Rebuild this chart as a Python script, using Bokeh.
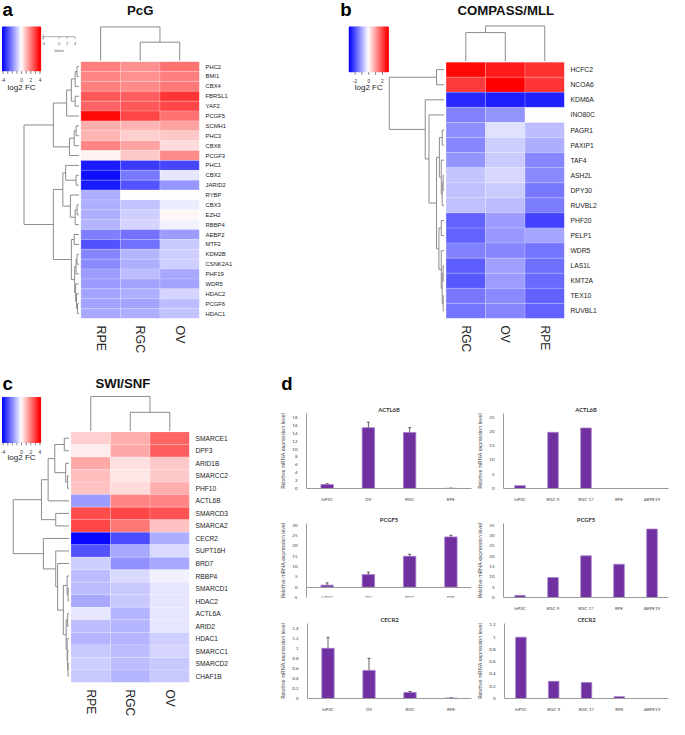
import numpy as np
from bokeh.plotting import figure
from bokeh.models import (Range1d, FactorRange, LinearAxis, FixedTicker, LinearColorMapper,
                          Label, ColumnDataSource, Whisker, TeeHead)
from bokeh.layouts import row, column
from bokeh.embed import file_html
from bokeh.resources import INLINE
from bokeh.core.properties import value

S = 0.978


def sc(v):
    return int(round(v * S))


def fs(v):
    return f"{v * S:.2f}px"


HM_FONT = "Liberation Sans"
BAR_FONT = "Lato"
DCOL = "#8c8c8c"
BAR_FILL = "#7030A0"
BAR_LINE = "#a27bc9"

# ---------------- panel a : PcG ----------------
pcg_genes = ["PHC2", "BMI1", "CBX4", "FBRSL1", "YAF2", "PCGF5", "SCMH1", "PHC3", "CBX8", "PCGF3",
             "PHC1", "CBX2", "JARID2", "RYBP", "CBX3", "EZH2", "RBBP4", "AEBP2", "MTF2", "KDM2B",
             "CSNK2A1", "PHF19", "WDR5", "HDAC2", "PCGF6", "HDAC1"]
pcg_samples = ["RPE", "RGC", "OV"]
pcg_rpe = [2.1, 2.0, 2.1, 2.7, 2.5, 4.0, 1.3, 1.2, 2.0, 0.2, -3.7, -3.9, -3.7, -1.3, -1.3, -1.3,
           -1.2, -2.1, -2.8, -2.0, -1.9, -1.6, -1.6, -1.5, -1.5, -1.4]
pcg_rgc = [1.8, 1.8, 1.9, 2.6, 2.7, 3.0, 1.2, 0.8, 1.5, 0.9, -3.2, -2.2, -2.8, 0.0, -1.0, -0.8,
           -0.7, -2.3, -2.3, -1.2, -1.3, -1.1, -1.5, -1.3, -1.5, -1.3]
pcg_ov = [2.3, 2.1, 2.2, 3.3, 3.0, 2.3, 1.5, 0.9, 0.6, 1.9, -3.0, -0.4, -1.7, 0.05, -0.3, 0.15,
          -0.2, -1.6, -0.9, -0.8, -0.8, -1.4, -1.5, -0.7, -1.1, -1.0]
pcg_row_tree = (
    (
        ((
            (("PHC2", "BMI1", 2), "CBX4", 4),
            ("FBRSL1", "YAF2", 4),
            8), "PCGF5", 13),
        ((("SCMH1", "PHC3", 3), "CBX8", 5), "PCGF3", 10),
        27),
    (
        (
            ("PHC1", ("CBX2", "JARID2", 3), 14),
            ("RYBP", (("CBX3", "EZH2", 2), "RBBP4", 4), 9),
            17),
        (
            ("AEBP2", "MTF2", 5),
            (
                (("KDM2B", "CSNK2A1", 2), "PHF19", 3),
                ("WDR5", ("HDAC2", ("PCGF6", "HDAC1", 1.5), 2.5), 3.5),
                4.5),
            8),
        27),
    58)
pcg_col_tree = ("RPE", ("RGC", "OV", 19.5), 35.5)

# ---------------- panel b : COMPASS/MLL ----------------
cmp_genes = ["HCFC2", "NCOA6", "KDM6A", "INO80C", "PAGR1", "PAXIP1", "TAF4", "ASH2L", "DPY30",
             "RUVBL2", "PHF20", "PELP1", "WDR5", "LAS1L", "KMT2A", "TEX10", "RUVBL1"]
cmp_samples = ["RGC", "OV", "RPE"]
cmp_rgc = [2.75, 2.2, -2.4, -1.4, -1.25, -1.35, -1.2, -0.65, -0.7, -0.7, -1.75, -1.75, -1.4,
           -1.8, -1.85, -1.5, -1.55]
cmp_ov = [2.55, 2.85, -2.5, -1.2, -0.35, -0.55, -0.6, -0.45, -0.6, -0.75, -1.1, -1.15, -1.35,
          -1.05, -1.1, -1.3, -1.35]
cmp_rpe = [2.3, 2.25, -2.45, 0.0, -0.75, -0.9, -1.35, -1.3, -1.5, -1.45, -2.1, -1.0, -1.55,
           -1.6, -1.65, -1.75, -1.75]
cmp_row_tree = (
    ("HCFC2", "NCOA6", 8),
    ("KDM6A",
     ("INO80C",
      (
          (("PAGR1", "PAXIP1", 2), ("TAF4", (("ASH2L", "DPY30", 1), "RUVBL2", 2), 3), 5),
          (("PHF20", "PELP1", 3), ("WDR5", (("LAS1L", "KMT2A", 1), ("TEX10", "RUVBL1", 1), 2), 3), 5.5),
          8),
      16),
     20),
    58)
cmp_col_tree = (("RGC", "OV", 30), "RPE", 37)

# ---------------- panel c : SWI/SNF ----------------
swi_genes = ["SMARCE1", "DPF3", "ARID1B", "SMARCC2", "PHF10", "ACTL6B", "SMARCD3", "SMARCA2",
             "CECR2", "SUPT16H", "BRD7", "RBBP4", "SMARCD1", "HDAC2", "ACTL6A", "ARID2", "HDAC1",
             "SMARCC1", "SMARCD2", "CHAF1B"]
swi_samples = ["RPE", "RGC", "OV"]
swi_rpe = [0.8, 0.3, 1.4, 1.1, 1.0, -1.6, 2.9, 3.0, -4.0, -2.8, -0.8, -1.1, -1.1, -1.4, -0.4,
           -1.1, -1.2, -0.9, -0.8, -0.9]
swi_rgc = [1.3, 1.4, 0.5, 0.4, 0.6, 2.0, 3.0, 2.2, -2.9, -1.4, -1.8, -0.6, -0.9, -0.9, -1.2,
           -1.2, -1.2, -1.1, -1.1, -1.2]
swi_ov = [2.5, 2.6, 0.9, 0.9, 1.3, 2.0, 2.8, 1.0, -1.3, -0.6, -1.4, -0.2, -0.4, -0.4, -0.4,
          -0.4, -0.8, -0.7, -0.9, -0.9]
swi_row_tree = (
    (
        (
            (("SMARCE1", "DPF3", 5), ("ARID1B", ("SMARCC2", "PHF10", 1.5), 3.5), 15),
            "ACTL6B", 22),
        ("SMARCD3", "SMARCA2", 14),
        29),
    ("CECR2",
     ("SUPT16H",
      ("BRD7",
       (
           ("RBBP4", ("SMARCD1", "HDAC2", 1), 2),
           (("ACTL6A", "ARID2", 1.5), ("HDAC1", ("SMARCC1", ("SMARCD2", "CHAF1B", 1), 1.5), 2), 3),
           6),
       12),
      14),
     27),
    58.7)
swi_col_tree = ("RPE", ("RGC", "OV", 20), 37)

# colour key ticks
key4_ticks = [-4, -3, -2, -1, 0, 1, 2, 3, 4]
key4_labels = ["-4", "", "", "", "0", "", "2", "", "4"]
key2_ticks = [-2, -1, 0, 1, 2]
key2_labels = ["-2", "", "0", "", "2"]
value_key_ticks = [-4, 0, 2, 4]
value_key_labels = ["-4", "0", "2", "4"]

# ---------------- panel d : qPCR bars ----------------
set1_cats = ["hiPSC", "OV", "RGC", "RPE"]
set2_cats = ["hiPSC", "RGC 9", "RGC 17", "RPE", "ARPE19"]

actl6b_l = [1.0, 15.4, 14.2, 0.05]
actl6b_l_err = [0.2, 1.4, 1.2, 0.0]
actl6b_r = [1.0, 19.7, 21.2, 0.0, 0.0]
pcgf5_l = [1.0, 6.1, 15.0, 24.4]
pcgf5_l_err = [1.1, 1.2, 1.0, 0.8]
pcgf5_r = [1.0, 9.7, 20.2, 16.1, 33.2]
cecr2_l = [1.0, 0.56, 0.12, 0.01]
cecr2_l_err = [0.22, 0.24, 0.02, 0.005]
cecr2_r = [1.0, 0.28, 0.26, 0.03, 0.0]

actl6b_l_ticks = [0, 2, 4, 6, 8, 10, 12, 14, 16, 18]
actl6b_r_ticks = [0, 5, 10, 15, 20, 25]
pcgf5_l_ticks = [-5, 0, 5, 10, 15, 20, 25, 30]
pcgf5_r_ticks = [0, 5, 10, 15, 20, 25, 30, 35]
cecr2_l_ticks = [0, 0.2, 0.4, 0.6, 0.8, 1, 1.2, 1.4]
cecr2_l_labels = ["0", "0.2", "0.4", "0.6", "0.8", "1", "1.2", "1.4"]
cecr2_r_ticks = [0, 0.2, 0.4, 0.6, 0.8, 1, 1.2]
cecr2_r_labels = ["0", "0.2", "0.4", "0.6", "0.8", "1", "1.2"]


def bwr_palette(n=256):
    out = []
    for i in range(n):
        t = i / (n - 1)
        if t < 0.5:
            f = t / 0.5
            r = g = int(round(255 * f))
            b = 255
        else:
            f = (t - 0.5) / 0.5
            r = 255
            g = b = int(round(255 * (1 - f)))
        out.append(f"#{r:02x}{g:02x}{b:02x}")
    return out


PAL = bwr_palette()


def dendro_segments(tree, leaves):
    segs = []

    def rec(node):
        if isinstance(node, str):
            return leaves.index(node) + 0.5, 0.0
        a, b, hh = node
        pa, ha = rec(a)
        pb, hb = rec(b)
        segs.append((pa, ha, pa, hh))
        segs.append((pb, hb, pb, hh))
        segs.append((pa, hh, pb, hh))
        return (pa + pb) / 2, hh

    rec(tree)
    return segs


def heatmap_panel(W, H, g, genes, samples, columns, row_tree, col_tree, lo, hi,
                  cb_ticks, cb_labels, title, letter, value_key=False):
    nrow, ncol = len(genes), len(samples)
    cw = (g["hr"] - g["hl"]) / ncol
    ch = (g["hb"] - g["ht"]) / nrow

    def X(px):
        return (px - g["hl"]) / cw

    def Y(py):
        return (py - g["ht"]) / ch

    w, h = sc(W), sc(H)
    fw, fh = sc(g["hr"]), sc(g["hb"])
    p = figure(width=w, height=h, x_range=Range1d(X(0), ncol), y_range=Range1d(nrow, Y(0)),
               x_axis_location=None, y_axis_location=None, toolbar_location=None,
               output_backend="svg", min_border_left=0, min_border_top=0,
               min_border_right=w - fw, min_border_bottom=h - fh)
    p.outline_line_color = None
    p.grid.visible = False

    mapper = LinearColorMapper(palette=PAL, low=lo, high=hi)
    xs, ys, vs = [], [], []
    for j, col in enumerate(columns):
        for i, v in enumerate(col):
            xs.append(j + 0.5)
            ys.append(i + 0.5)
            vs.append(v)
    src = ColumnDataSource(dict(x=xs, y=ys, v=vs))
    p.rect(x="x", y="y", width=1, height=1, source=src,
           fill_color={"field": "v", "transform": mapper},
           line_color="white", line_width=0.6, line_alpha=0.3)

    # row dendrogram
    segs = dendro_segments(row_tree, genes)
    hmax = row_tree[2]

    def rx(hh):
        return X(g["rleaf"] - hh / hmax * (g["rleaf"] - g["rroot"]))

    p.segment(x0=[rx(s[1]) for s in segs], y0=[s[0] for s in segs],
              x1=[rx(s[3]) for s in segs], y1=[s[2] for s in segs],
              line_color=DCOL, line_width=1)

    # column dendrogram
    csegs = dendro_segments(col_tree, samples)
    cmax = col_tree[2]

    def cy(hh):
        return Y(g["cleaf"] - hh / cmax * (g["cleaf"] - g["croot"]))

    p.segment(x0=[s[0] for s in csegs], y0=[cy(s[1]) for s in csegs],
              x1=[s[2] for s in csegs], y1=[cy(s[3]) for s in csegs],
              line_color=DCOL, line_width=1)

    # colour key
    n = 120
    edges = np.linspace(g["klo"], g["khi"], n + 1)

    def bx(v):
        return X(g["cbl"] + (v - g["klo"]) / (g["khi"] - g["klo"]) * (g["cbr"] - g["cbl"]))

    ksrc = ColumnDataSource(dict(left=[bx(e) for e in edges[:-1]], right=[bx(e) for e in edges[1:]],
                                 v=list((edges[:-1] + edges[1:]) / 2)))
    p.quad(left="left", right="right", top=Y(g["cbt"]), bottom=Y(g["cbb"]), source=ksrc,
           fill_color={"field": "v", "transform": mapper},
           line_color={"field": "v", "transform": mapper}, line_width=0.6)
    p.segment(x0=[bx(t) for t in cb_ticks], y0=Y(g["cbb"]), x1=[bx(t) for t in cb_ticks],
              y1=Y(g["cbb"] + 3), line_color="#555555", line_width=0.7)
    p.text(x=[bx(t) for t in cb_ticks], y=Y(g["cbtl"]), text=cb_labels,
           text_align="center", text_baseline="middle", text_font=value(HM_FONT),
           text_font_size=fs(5), text_color="#333333")
    p.add_layout(Label(x=X((g["cbl"] + g["cbr"]) / 2), y=Y(g["cbtitle"]), text="log2 FC",
                       text_align="center", text_baseline="middle", text_font=HM_FONT,
                       text_font_size=fs(8.2), text_color="#222222"))

    if value_key:
        vx0, vx1, vy = 43.5, 76, 37

        def vx(t):
            return X(vx0 + (t + 4) / 8 * (vx1 - vx0))

        p.segment(x0=[X(vx0)], y0=[Y(vy)], x1=[X(vx1)], y1=[Y(vy)], line_color="#777777", line_width=0.6)
        p.segment(x0=[X(vx0)], y0=[Y(vy - 2.5)], x1=[X(vx0)], y1=[Y(vy + 3)], line_color="#777777",
                  line_width=0.6)
        p.segment(x0=[vx(t) for t in value_key_ticks], y0=Y(vy), x1=[vx(t) for t in value_key_ticks],
                  y1=Y(vy + 2.5), line_color="#777777", line_width=0.6)
        p.text(x=[vx(t) for t in value_key_ticks], y=Y(vy + 7), text=value_key_labels,
               text_align="center", text_baseline="middle", text_font=value(HM_FONT),
               text_font_size=fs(4), text_color="#555555")
        p.add_layout(Label(x=vx(0), y=Y(vy + 14.5), text="Value", text_align="center",
                           text_baseline="middle", text_font=HM_FONT, text_font_size=fs(4),
                           text_color="#555555"))

    # letter and title
    p.add_layout(Label(x=X(g["letter"][0]), y=Y(g["letter"][1]), text=letter, text_align="left",
                       text_baseline="middle", text_font=HM_FONT, text_font_style="bold",
                       text_font_size=fs(19), text_color="#000000"))
    p.add_layout(Label(x=X(g["title"][0]), y=Y(g["title"][1]), text=title, text_align="center",
                       text_baseline="middle", text_font=HM_FONT, text_font_style="bold",
                       text_font_size=fs(13.5), text_color="#111111"))

    # gene labels (right axis)
    ax = LinearAxis(ticker=FixedTicker(ticks=[i + 0.5 for i in range(nrow)]),
                    major_label_overrides={i + 0.5: gname for i, gname in enumerate(genes)})
    # sample labels (below axis)
    bx_ax = LinearAxis(ticker=FixedTicker(ticks=[j + 0.5 for j in range(ncol)]),
                       major_label_overrides={j + 0.5: s for j, s in enumerate(samples)})
    for a, size, stand in ((ax, g["gene_fs"], 6), (bx_ax, g["col_fs"], 7)):
        a.axis_line_color = None
        a.major_tick_line_color = None
        a.minor_tick_line_color = None
        a.major_tick_in = 0
        a.major_tick_out = 0
        a.major_label_standoff = sc(stand)
        a.major_label_text_font = HM_FONT
        a.major_label_text_font_size = fs(size)
        a.major_label_text_color = "#222222"
    bx_ax.major_label_orientation = "vertical"
    p.add_layout(ax, "right")
    p.add_layout(bx_ax, "below")
    return p


geo_a = dict(hl=82, hr=203, ht=62.5, hb=325, rleaf=80, rroot=24, cleaf=61.5, croot=27,
             cbl=2, cbr=41, cbt=27, cbb=72, cbtl=81.5, cbtitle=88.5, klo=-4.15, khi=4.15,
             letter=(2, 9), title=(142.5, 10), gene_fs=6.0, col_fs=12.8)
geo_b = dict(hl=115, hr=236, ht=63, hb=325, rleaf=113, rroot=57, cleaf=62, croot=26,
             cbl=16, cbr=56, cbt=27, cbb=73, cbtl=82, cbtitle=89, klo=-2.85, khi=2.85,
             letter=(7, 9), title=(176, 10), gene_fs=6.9, col_fs=12.3)
geo_c = dict(hl=72, hr=193, ht=63, hb=324, rleaf=70, rroot=13, cleaf=62, croot=26,
             cbl=2, cbr=41, cbt=27, cbb=74, cbtl=83.5, cbtitle=90, klo=-4.15, khi=4.15,
             letter=(2, 12), title=(125, 12), gene_fs=6.8, col_fs=12.3)

fig_a = heatmap_panel(341, 379, geo_a, pcg_genes, pcg_samples, [pcg_rpe, pcg_rgc, pcg_ov],
                      pcg_row_tree, pcg_col_tree, -4.15, 4.15, key4_ticks, key4_labels,
                      "PcG", "a", value_key=True)
fig_b = heatmap_panel(343, 379, geo_b, cmp_genes, cmp_samples, [cmp_rgc, cmp_ov, cmp_rpe],
                      cmp_row_tree, cmp_col_tree, -2.85, 2.85, key2_ticks, key2_labels,
                      "COMPASS/MLL", "b")
fig_c = heatmap_panel(283, 356, geo_c, swi_genes, swi_samples, [swi_rpe, swi_rgc, swi_ov],
                      swi_row_tree, swi_col_tree, -4.15, 4.15, key4_ticks, key4_labels,
                      "SWI/SNF", "c")


def bar_panel(title, cats, vals, errs, ticks, tlabels, ylo, yhi, W, H, bl, fw, fh, bw,
              zero_axis=False):
    # top border is left to the title itself, so the title sits right above the frame
    p = figure(width=W, height=H, x_range=FactorRange(factors=cats), y_range=Range1d(ylo, yhi),
               toolbar_location=None, output_backend="svg", title=title,
               min_border_left=bl, min_border_top=0, min_border_right=W - bl - fw,
               min_border_bottom=H - 8 - fh)
    p.outline_line_color = None
    p.grid.visible = False
    src = ColumnDataSource(dict(x=cats, top=vals))
    p.vbar(x="x", top="top", width=bw, source=src, fill_color=BAR_FILL, line_color=BAR_LINE,
           line_width=0.8)
    if errs is not None:
        esrc = ColumnDataSource(dict(x=cats, upper=[v + e for v, e in zip(vals, errs)],
                                     lower=[v - e for v, e in zip(vals, errs)]))
        wk = Whisker(base="x", upper="upper", lower="lower", source=esrc, line_color="#222222",
                     line_width=0.7,
                     upper_head=TeeHead(size=3, line_color="#222222", line_width=0.7),
                     lower_head=TeeHead(size=3, line_color="#222222", line_width=0.7))
        p.add_layout(wk)
    p.title.text_font = BAR_FONT
    p.title.text_font_size = fs(6)
    p.title.text_font_style = "bold"
    p.title.text_color = "#333333"
    p.title.align = "center"
    p.title.standoff = 1
    xa = p.xaxis[0]
    xa.axis_line_color = "#9a9a9a"
    xa.major_tick_line_color = None
    xa.minor_tick_line_color = None
    xa.major_label_text_font = BAR_FONT
    xa.major_label_text_font_size = fs(4.6)
    xa.major_label_text_color = "#444444"
    xa.major_label_standoff = 2
    if zero_axis:
        xa.fixed_location = 0
    ya = p.yaxis[0]
    ya.ticker = FixedTicker(ticks=ticks)
    ya.major_label_overrides = dict(zip(ticks, tlabels))
    ya.axis_line_color = "#9a9a9a"
    ya.major_tick_line_color = None
    ya.minor_tick_line_color = None
    ya.major_label_text_font = BAR_FONT
    ya.major_label_text_font_size = fs(4.6)
    ya.major_label_text_color = "#444444"
    ya.major_label_standoff = 3
    ya.axis_label = "Relative mRNA expression level"
    ya.axis_label_text_font = BAR_FONT
    ya.axis_label_text_font_size = fs(5.6)
    ya.axis_label_text_font_style = "normal"
    ya.axis_label_text_color = "#444444"
    ya.axis_label_standoff = 3
    return p


DL, DR = 197, 195
b1l = bar_panel("ACTL6B", set1_cats, actl6b_l, actl6b_l_err, actl6b_l_ticks,
                [str(t) for t in actl6b_l_ticks], 0, 19, DL, 110, 26, 168, 77, 0.30)
b1r = bar_panel("ACTL6B", set2_cats, actl6b_r, None, actl6b_r_ticks,
                [str(t) for t in actl6b_r_ticks], 0, 26.3, DR, 110, 27, 167, 77, 0.32)
b2l = bar_panel("PCGF5", set1_cats, pcgf5_l, pcgf5_l_err, pcgf5_l_ticks,
                [str(t) for t in pcgf5_l_ticks], -5, 30.9, DL, 100, 26, 168, 82, 0.30,
                zero_axis=True)
b2r = bar_panel("PCGF5", set2_cats, pcgf5_r, None, pcgf5_r_ticks,
                [str(t) for t in pcgf5_r_ticks], 0, 35.9, DR, 100, 27, 167, 76, 0.32)
b3l = bar_panel("CECR2", set1_cats, cecr2_l, cecr2_l_err, cecr2_l_ticks, cecr2_l_labels,
                0, 1.495, DL, 106, 26, 168, 77, 0.30)
b3r = bar_panel("CECR2", set2_cats, cecr2_r, None, cecr2_r_ticks, cecr2_r_labels,
                0, 1.223, DR, 106, 27, 167, 79, 0.32)

HDR_H = 32
hdr = figure(width=DL + DR, height=HDR_H, x_range=Range1d(0, DL + DR), y_range=Range1d(HDR_H, 0),
             x_axis_location=None, y_axis_location=None, toolbar_location=None,
             output_backend="svg", min_border_left=0, min_border_right=0, min_border_top=0,
             min_border_bottom=0)
hdr.outline_line_color = None
hdr.grid.visible = False
hdr.add_layout(Label(x=3.7, y=12, text="d", text_align="left", text_baseline="middle",
                     text_font=HM_FONT, text_font_style="bold", text_font_size=fs(19),
                     text_color="#000000"))

panel_d = column(hdr, row(b1l, b1r), row(b2l, b2r), row(b3l, b3r))
layout = column(row(fig_a, fig_b), row(fig_c, panel_d))

open("out.html", "w").write(file_html(layout, INLINE))
